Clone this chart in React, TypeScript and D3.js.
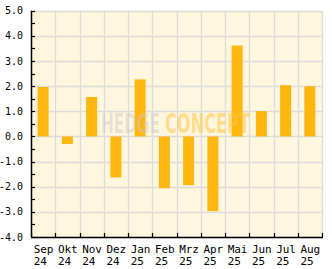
import React from "react";
import * as d3 from "d3";

const months = ["Sep", "Okt", "Nov", "Dez", "Jan", "Feb", "Mrz", "Apr", "Mai", "Jun", "Jul", "Aug"];
const years = ["24", "24", "24", "24", "25", "25", "25", "25", "25", "25", "25", "25"];
const values = [1.97, -0.3, 1.57, -1.63, 2.27, -2.06, -1.94, -2.97, 3.62, 1.01, 2.04, 2.0];
const yTicks = [-4, -3, -2, -1, 0, 1, 2, 3, 4, 5];
const yMinorTicks = d3.range(-4, 5.01, 0.5);

export default function App() {
  const W = 332, H = 269;
  const left = 31, right = 322, top = 10.8, bottom = 237;
  const x = d3.scaleBand<number>().domain(d3.range(months.length)).range([left, right]);
  const y = d3.scaleLinear().domain([-4, 5]).range([bottom, top]);
  const bw = 11;
  const font = "'DejaVu Sans Mono', monospace";
  return (
    <svg width={W} height={H} style={{ position: "absolute", left: 0, top: 0 }}>
      <rect x={left} y={top} width={right - left} height={bottom - top} fill="#FFF6DE" />
      {yTicks.map((t) => (
        <line key={"gy" + t} x1={left} x2={right} y1={Math.round(y(t)) + 0.5} y2={Math.round(y(t)) + 0.5} stroke="#DCDCDC" strokeWidth={1.3} />
      ))}
      {d3.range(months.length + 1).map((i) => {
        const xv = Math.round(left + i * x.bandwidth()) + 0.5;
        return <line key={"gx" + i} x1={xv} x2={xv} y1={top} y2={bottom} stroke="#DCDCDC" strokeWidth={1.3} />;
      })}
      {values.map((v, i) => {
        const cx = x(i)! + x.bandwidth() / 2;
        const y0 = y(0), y1 = y(v);
        return (
          <rect key={"b" + i} x={cx - bw / 2} y={Math.min(y0, y1)} width={bw} height={Math.abs(y1 - y0)} fill="#FFB60F" />
        );
      })}
      <text y={133} fontFamily="Impact, 'Liberation Sans Narrow', 'DejaVu Sans Condensed', sans-serif" fontWeight="bold" fontSize={26}>
        <tspan x={101} textLength={59} lengthAdjust="spacingAndGlyphs" fill="#C8C8C8" fillOpacity={0.45}>HEDGE</tspan>
        <tspan x={165} textLength={85} lengthAdjust="spacingAndGlyphs" fill="#FFC440" fillOpacity={0.55}>CONCEPT</tspan>
      </text>
      <line x1={left + 0.5} x2={left + 0.5} y1={top} y2={bottom} stroke="#000" strokeWidth={1.5} />
      <line x1={left} x2={right + 1} y1={bottom + 0.5} y2={bottom + 0.5} stroke="#000" strokeWidth={1.5} />
      {yMinorTicks.map((t) => (
        <line key={"ty" + t} x1={left} x2={left + 4} y1={Math.round(y(t)) + 0.5} y2={Math.round(y(t)) + 0.5} stroke="#000" strokeWidth={1.2} />
      ))}
      {d3.range(months.length + 1).map((i) => {
        const xv = Math.round(left + i * x.bandwidth()) + 0.5;
        return <line key={"tx" + i} x1={xv} x2={xv} y1={bottom - 4} y2={bottom} stroke="#000" strokeWidth={1.2} />;
      })}
      <g fontFamily={font} fontSize={10} fill="#000">
        {yTicks.map((t) => (
          <text key={"ly" + t} x={23} y={y(t)} dy="0.35em" textAnchor="end">{t.toFixed(1)}</text>
        ))}
      </g>
      <g fontFamily={font} fontSize={11} fill="#000">
        {months.map((m, i) => {
          const cx = x(i)! + x.bandwidth() / 2;
          return (
            <g key={"lx" + i}>
              <text x={cx - 9.5} y={253}>{m}</text>
              <text x={cx - 9.5} y={264.5}>{years[i]}</text>
            </g>
          );
        })}
      </g>
    </svg>
  );
}
